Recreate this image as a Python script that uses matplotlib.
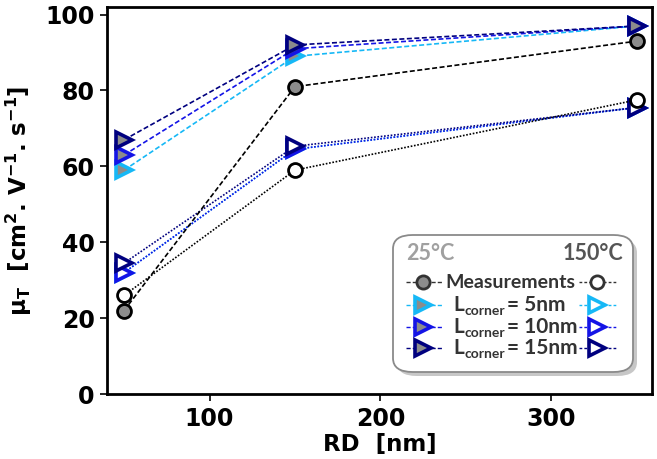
import matplotlib
matplotlib.use("Agg")
import matplotlib.pyplot as plt
from matplotlib.lines import Line2D
from matplotlib.patches import FancyBboxPatch

# --- data -------------------------------------------------------------
rd = [50, 150, 350]

meas_25 = [22, 81, 93]
meas_150 = [26, 59, 77.5]

sim_25 = {
    "5nm": [59, 89, 97],
    "10nm": [63, 91, 97],
    "15nm": [67, 92, 97],
}
sim_150 = {
    "5nm": [32, 64.5, 75.5],
    "10nm": [32, 64.5, 75.5],
    "15nm": [34.5, 65.3, 75.5],
}
corner_labels = ["5nm", "10nm", "15nm"]
x_ticks = [100, 200, 300]
y_ticks = [0, 20, 40, 60, 80, 100]

colors = {"5nm": "#16b8f6", "10nm": "#1414e6", "15nm": "#00007f"}
grey_fill = "#8c8c8c"

plt.rcParams["mathtext.default"] = "bf"

W, H = 657, 459
fig = plt.figure(figsize=(W / 100, H / 100), dpi=100)
ax = fig.add_axes([107 / W, (H - 394) / H, (652 - 107) / W, (394 - 7) / H])

tri_ms, tri_mew = 11, 2.6
circ_ms, circ_mew = 10, 2.0

# 150 °C simulations (dotted, open triangles)
for k in corner_labels:
    ax.plot(rd, sim_150[k], ls=(0, (1, 1)), lw=1.2, color=colors[k],
            marker=">", ms=tri_ms, mew=tri_mew, mfc="white", mec=colors[k], zorder=3)
# 150 °C measurements
ax.plot(rd, meas_150, ls=(0, (1, 1)), lw=1.2, color="black",
        marker="o", ms=circ_ms, mew=circ_mew, mfc="white", mec="black", zorder=3)
# 25 °C simulations (dashed, grey-filled triangles)
for k in corner_labels:
    ax.plot(rd, sim_25[k], ls=(0, (3, 1.5)), lw=1.2, color=colors[k],
            marker=">", ms=tri_ms, mew=tri_mew, mfc=grey_fill, mec=colors[k], zorder=4)
# 25 °C measurements
ax.plot(rd, meas_25, ls=(0, (3, 1.5)), lw=1.2, color="black",
        marker="o", ms=circ_ms, mew=circ_mew, mfc=grey_fill, mec="black", zorder=4)

ax.set_xlim(40, 359)
ax.set_ylim(0, 102)
ax.set_xticks(x_ticks)
ax.set_yticks(y_ticks)
ax.tick_params(direction="out", length=5, width=1.2, labelsize=17, pad=4)
for lbl in ax.get_xticklabels() + ax.get_yticklabels():
    lbl.set_fontweight("bold")
for s in ax.spines.values():
    s.set_linewidth(2)

ax.set_xlabel("RD  [nm]", fontsize=16.5, fontweight="bold", labelpad=2)
ax.set_ylabel(r"μ$_\mathbf{T}$  [cm$^\mathbf{2}$. V$^\mathbf{-1}$. s$^\mathbf{-1}$]",
              fontsize=16.5, fontweight="bold", labelpad=8)

# --- legend box (figure pixel coordinates) -----------------------------
def fx(px):
    return px / W


def fy(py):
    return (H - py) / H


box_l, box_r, box_t, box_b = 393, 633, 235, 372
shadow = FancyBboxPatch((fx(box_l + 4), fy(box_b + 4)), fx(box_r - box_l), (box_b - box_t) / H,
                        boxstyle="round,pad=0,rounding_size=0.03", transform=fig.transFigure,
                        fc="#9a9a9a", ec="none", alpha=0.55, zorder=9)
box = FancyBboxPatch((fx(box_l), fy(box_b)), fx(box_r - box_l), (box_b - box_t) / H,
                     boxstyle="round,pad=0,rounding_size=0.03", transform=fig.transFigure,
                     fc="white", ec="#8a8a8a", lw=1.3, zorder=10)
fig.add_artist(shadow)
fig.add_artist(box)

lfont = dict(family="Lato", fontweight="bold", zorder=12)
fig.text(fx(406), fy(253), "25°C", color="#a0a0a0", fontsize=15.5, ha="left", va="center", **lfont)
fig.text(fx(623), fy(253), "150°C", color="#555555", fontsize=15.5, ha="right", va="center", **lfont)


def legend_sample(xc, yc, x0, x1, color, marker, mfc, ls, ms, mew):
    fig.add_artist(Line2D([fx(x0), fx(xc), fx(x1)], [fy(yc)] * 3, transform=fig.transFigure,
                          color=color, ls=ls, lw=1.0, marker=marker, markevery=[1],
                          ms=ms, mew=mew, mfc=mfc, mec=color, zorder=11))


rows_y = [282, 305, 327, 348]
legend_sample(423, rows_y[0], 406, 443, "#333333", "o", grey_fill, (0, (3, 1.5)), 9.5, 2.0)
legend_sample(597, rows_y[0], 579, 616, "#333333", "o", "white", (0, (2, 1.5)), 9.5, 2.0)
fig.text(fx(445), fy(rows_y[0]), "Measurements", color="#333333", fontsize=14,
         ha="left", va="center", **lfont)

renderer = fig.canvas.get_renderer()
for k, y in zip(corner_labels, rows_y[1:]):
    legend_sample(423, y, 406, 443, colors[k], ">", grey_fill, (0, (3, 1.5)), 11, 2.6)
    legend_sample(597, y, 579, 616, colors[k], ">", "white", (0, (2, 1.5)), 11, 2.6)
    # main letter, subscript and value placed along a shared baseline
    base = y + 6
    t1 = fig.text(fx(453), fy(base), "L", color="#333333", fontsize=15,
                  ha="left", va="baseline", **lfont)
    x_after_L = t1.get_window_extent(renderer).x1
    t2 = fig.text(x_after_L / W + 0.5 / W, fy(base + 4), "corner", color="#333333", fontsize=10,
                  ha="left", va="baseline", **lfont)
    x_after_sub = t2.get_window_extent(renderer).x1
    fig.text(x_after_sub / W + 2 / W, fy(base), "= " + k, color="#333333", fontsize=15,
             ha="left", va="baseline", **lfont)

fig.savefig("out.png", dpi=100)
